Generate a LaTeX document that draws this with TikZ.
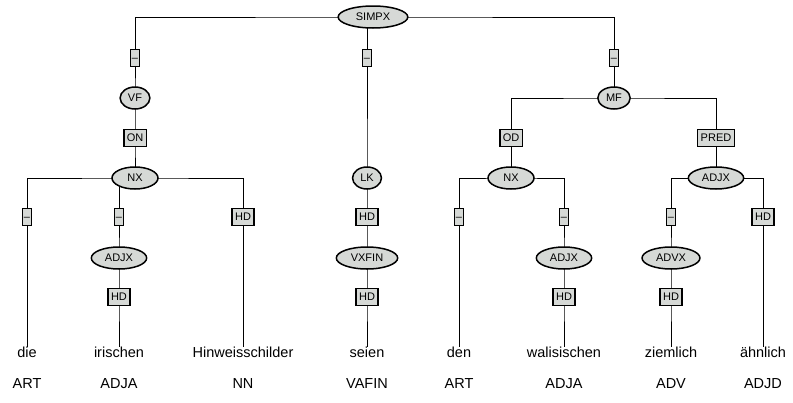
\documentclass[tikz,border=0pt]{standalone}
\usepackage{fontspec}
\setmainfont{Liberation Sans}
\usepackage{tikz}
\usetikzlibrary{shapes.geometric,backgrounds}
\definecolor{nodegray}{RGB}{214,217,214}

\begin{document}
\begin{tikzpicture}[x=1pt,y=-1pt,line width=1.5pt,
  cat/.style={draw,fill=nodegray,ellipse,inner xsep=5.5pt,inner ysep=0pt,minimum height=22pt,
    text height=7.5pt,text depth=0pt,font=\fontsize{11}{12}\selectfont},
  lab/.style={draw,fill=nodegray,rectangle,inner xsep=3pt,inner ysep=0pt,minimum height=17pt,
    text height=7.5pt,text depth=0pt,font=\fontsize{11}{12}\selectfont},
  dashbox/.style={lab,inner xsep=1.5pt},
  word/.style={anchor=north,inner sep=0pt,text height=10.5pt,yshift=-8.5pt,font=\fontsize{14.5}{17}\selectfont},
  tag/.style={anchor=base,inner sep=0pt,font=\fontsize{14.5}{17}\selectfont}]
  \useasboundingbox (0,0) rectangle (793,402);
  % top level
  \node[cat,inner xsep=7.5pt] (simpx) at (373,17) {SIMPX};
  \node[dashbox] (e1) at (135,58) {--};
  \node[dashbox] (e2) at (367,58) {--};
  \node[dashbox] (e3) at (614,58) {--};
  % Vorfeld
  \node[cat,inner xsep=3.5pt] (vf) at (135,98) {VF};
  \node[lab] (on) at (135,138) {ON};
  \node[cat,minimum width=46pt] (nx1) at (135,178) {NX};
  \node[dashbox] (a1) at (27,217) {--};
  \node[dashbox] (a2) at (119,217) {--};
  \node[lab] (a3) at (243,217) {HD};
  \node[cat] (adjx1) at (119,258) {ADJX};
  \node[lab] (h1) at (119,297) {HD};
  % linke Klammer
  \node[cat,inner xsep=3.5pt] (lk) at (367,178) {LK};
  \node[lab] (b1) at (367,217) {HD};
  \node[cat] (vxfin) at (367,258) {VXFIN};
  \node[lab] (h2) at (367,297) {HD};
  % Mittelfeld
  \node[cat,inner xsep=3.5pt] (mf) at (614,98) {MF};
  \node[lab] (od) at (511,138) {OD};
  \node[lab] (pred) at (716,138) {PRED};
  \node[cat,minimum width=46pt] (nx2) at (511,178) {NX};
  \node[cat] (adjx2) at (716,178) {ADJX};
  \node[dashbox] (c1) at (459,217) {--};
  \node[dashbox] (c2) at (564,217) {--};
  \node[dashbox] (c3) at (671,217) {--};
  \node[lab] (c4) at (763,217) {HD};
  \node[cat] (adjx3) at (564,258) {ADJX};
  \node[cat] (advx) at (671,258) {ADVX};
  \node[lab] (h3) at (564,297) {HD};
  \node[lab] (h4) at (671,297) {HD};
  % Woerter und Tags
  \foreach \x/\w/\t/\n in {27/die/ART/w1, 119/irischen/ADJA/w2, 243/Hinweisschilder/NN/w3,
    367/seien/VAFIN/w4, 459/den/ART/w5, 564/walisischen/ADJA/w6, 671/ziemlich/ADV/w7, 763/ähnlich/ADJD/w8}{
    \node[word] (\n) at (\x,338) {\w};
    \node[tag] (t\n) at (\x,388) {\t};
  }
  \begin{scope}[on background layer]
    \draw (e1.center) |- (simpx.center) -| (e3.center);
    \draw (e2.center) -- (e2.center |- simpx.center);
    \draw (e1.center) -- (vf.center) -- (on.center) -- (nx1.center);
    \draw (a1.center) |- (nx1.center) -| (a3.center);
    \draw (a2.center) |- (nx1.center);
    \draw (a2.center) -- (adjx1.center) -- (h1.center) -- (w2.north);
    \draw (a1.center) -- (w1.north);
    \draw (a3.center) -- (w3.north);
    \draw (e2.center) -- (lk.center) -- (b1.center) -- (vxfin.center) -- (h2.center) -- (w4.north);
    \draw (e3.center) -- (mf.center);
    \draw (od.center) |- (mf.center) -| (pred.center);
    \draw (od.center) -- (nx2.center);
    \draw (pred.center) -- (adjx2.center);
    \draw (c1.center) |- (nx2.center) -| (c2.center);
    \draw (c3.center) |- (adjx2.center) -| (c4.center);
    \draw (c1.center) -- (w5.north);
    \draw (c2.center) -- (adjx3.center) -- (h3.center) -- (w6.north);
    \draw (c3.center) -- (advx.center) -- (h4.center) -- (w7.north);
    \draw (c4.center) -- (w8.north);
  \end{scope}
\end{tikzpicture}
\end{document}
